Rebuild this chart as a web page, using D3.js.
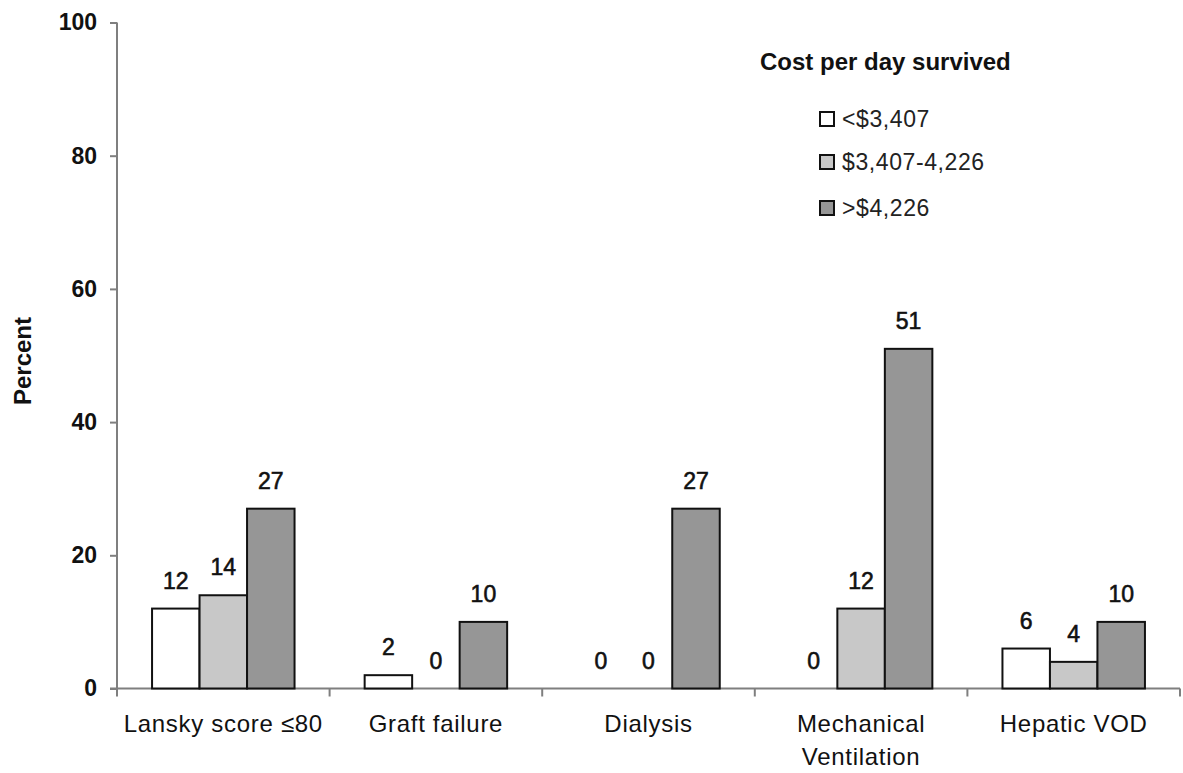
<!DOCTYPE html>
<html>
<head>
<meta charset="utf-8">
<script src="https://cdn.jsdelivr.net/npm/d3@7"></script>
<style>
  html, body { margin: 0; padding: 0; background: #fff; }
  svg { display: block; font-family: Arial, "Liberation Sans", sans-serif; }
</style>
</head>
<body>
<svg id="chart" width="1183" height="773"></svg>
<script>
// Outcome categories (x axis)
const categories = ["Lansky score \u226480", "Graft failure", "Dialysis", "Mechanical\nVentilation", "Hepatic VOD"];
// Cost-per-day-survived groups
const seriesNames = ["<$3,407", "$3,407-4,226", ">$4,226"];
const seriesColors = ["#ffffff", "#c8c8c8", "#969696"];
// Percent of patients, one array per cost group
const lowCost = [12, 2, 0, 0, 6];
const midCost = [14, 0, 0, 12, 4];
const highCost = [27, 10, 27, 51, 10];
const seriesValues = [lowCost, midCost, highCost];
// Y axis ticks
const yTicks = [0, 20, 40, 60, 80, 100];
const legendTitle = "Cost per day survived";
const yTitle = "Percent";

const svg = d3.select("#chart");
const plotLeft = 117, plotRight = 1180, plotTop = 22.5, plotBottom = 688.5;
const axisColor = "#7f7f7f";

const y = d3.scaleLinear().domain([0, 100]).range([plotBottom, plotTop]);
const x0 = d3.scaleBand().domain(categories).range([plotLeft, plotRight]).padding(0);
const x1 = d3.scaleBand().domain(seriesNames).range([0, x0.bandwidth()])
  .paddingInner(0).paddingOuter(0.738);

// Y axis
const yAxis = svg.append("g")
  .attr("transform", `translate(${plotLeft},0)`)
  .call(d3.axisLeft(y).tickValues(yTicks).tickSize(7).tickSizeOuter(0).tickPadding(13));
yAxis.select(".domain").remove();
yAxis.selectAll(".tick line").attr("stroke", axisColor).attr("stroke-width", 2);
yAxis.selectAll(".tick text")
  .attr("font-size", 23).attr("font-weight", "bold").attr("fill", "#111")
  .attr("font-family", "Arial, 'Liberation Sans', sans-serif");
svg.append("line")
  .attr("x1", plotLeft).attr("x2", plotLeft).attr("y1", plotTop).attr("y2", plotBottom + 8)
  .attr("stroke", axisColor).attr("stroke-width", 2);

// X axis baseline and category boundary ticks
svg.append("line")
  .attr("x1", plotLeft - 7).attr("x2", plotRight).attr("y1", plotBottom).attr("y2", plotBottom)
  .attr("stroke", axisColor).attr("stroke-width", 2);
const boundaries = categories.slice(1).map(c => x0(c)).concat([x0.range()[1]]);
svg.append("g").selectAll("line").data(boundaries).join("line")
  .attr("x1", d => d).attr("x2", d => d)
  .attr("y1", plotBottom).attr("y2", plotBottom + 8)
  .attr("stroke", axisColor).attr("stroke-width", 2);

// Category labels (multi-line where needed)
const catLabels = svg.append("g");
categories.forEach(c => {
  const cx = x0(c) + x0.bandwidth() / 2;
  const t = catLabels.append("text")
    .attr("x", cx)
    .attr("y", 732)
    .attr("text-anchor", "middle")
    .attr("font-size", 24)
    .attr("letter-spacing", 0.7)
    .attr("fill", "#111");
  c.split("\n").forEach((line, i) => {
    t.append("tspan").attr("x", cx).attr("dy", i === 0 ? 0 : 33).text(line);
  });
});

// Bars
const rows = categories.map((c, i) => ({
  cat: c,
  vals: seriesNames.map((s, j) => ({ s, j, v: seriesValues[j][i] }))
}));
const groups = svg.append("g").selectAll("g").data(rows).join("g")
  .attr("transform", d => `translate(${x0(d.cat)},0)`);
groups.selectAll("rect").data(d => d.vals.filter(e => e.v > 0)).join("rect")
  .attr("x", d => x1(d.s))
  .attr("y", d => y(d.v))
  .attr("width", x1.bandwidth())
  .attr("height", d => y(0) - y(d.v))
  .attr("fill", d => seriesColors[d.j])
  .attr("stroke", "#111")
  .attr("stroke-width", 2);
groups.selectAll("text").data(d => d.vals).join("text")
  .attr("x", d => x1(d.s) + x1.bandwidth() / 2)
  .attr("y", d => y(d.v) - 20)
  .attr("text-anchor", "middle")
  .attr("font-size", 23)
  .attr("fill", "#111")
  .attr("stroke", "#111")
  .attr("stroke-width", 0.6)
  .text(d => d.v);

// Y axis title
svg.append("text")
  .attr("transform", "translate(31,361) rotate(-90)")
  .attr("text-anchor", "middle")
  .attr("font-size", 24)
  .attr("font-weight", "bold")
  .attr("fill", "#111")
  .text(yTitle);

// Legend
const legend = svg.append("g");
legend.append("text")
  .attr("x", 760).attr("y", 70)
  .attr("font-size", 24).attr("font-weight", "bold").attr("fill", "#111")
  .text(legendTitle);
const legendY = [119, 162, 208];
seriesNames.forEach((s, i) => {
  legend.append("rect")
    .attr("x", 820).attr("y", legendY[i] - 7)
    .attr("width", 14).attr("height", 14)
    .attr("fill", seriesColors[i]).attr("stroke", "#111").attr("stroke-width", 2);
  legend.append("text")
    .attr("x", 842).attr("y", legendY[i])
    .attr("dominant-baseline", "central")
    .attr("font-size", 23).attr("letter-spacing", 0.6).attr("fill", "#222")
    .text(s);
});
</script>
</body>
</html>
